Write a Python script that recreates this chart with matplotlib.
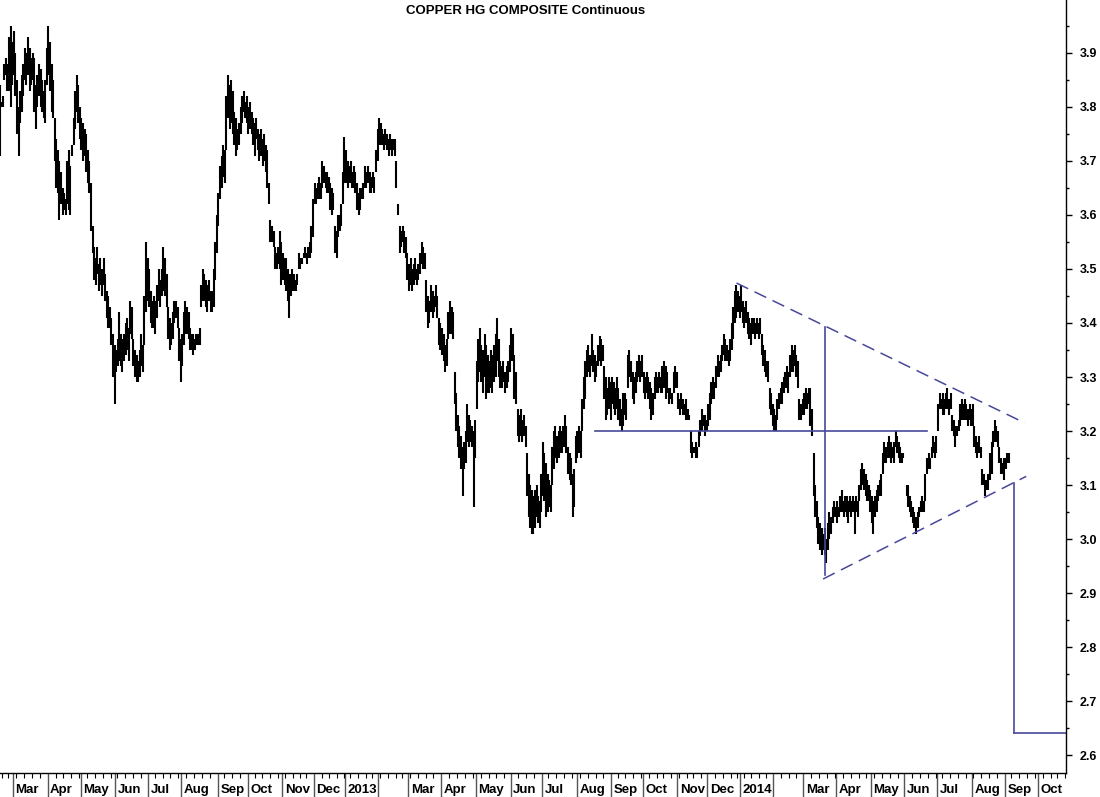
import matplotlib
matplotlib.use("Agg")
import matplotlib.pyplot as plt
import numpy as np
import pandas as pd
from matplotlib.ticker import FixedLocator, FormatStrFormatter
from pandas.tseries.holiday import USFederalHolidayCalendar
from pandas.tseries.offsets import CustomBusinessDay

plt.rcParams["font.family"] = ["Liberation Sans", "DejaVu Sans"]

TITLE = "COPPER HG COMPOSITE Continuous"
START = "2012-02-16"
AXIS_END = "2014-11-14"

# daily high / low, $/lb, one value per trading day from START
high_2012 = [
    3.84, 3.81, 3.82, 3.88, 3.89, 3.88, 3.93, 3.95, 3.92, 3.94,
    3.90, 3.85, 3.80, 3.83, 3.86, 3.88, 3.91, 3.90, 3.93, 3.91,
    3.89, 3.90, 3.89, 3.84, 3.86, 3.88, 3.87, 3.85, 3.83, 3.85,
    3.91, 3.95, 3.92, 3.88, 3.85, 3.78, 3.74, 3.72, 3.70, 3.68,
    3.65, 3.64, 3.63, 3.70, 3.72, 3.69, 3.73, 3.78, 3.83, 3.86,
    3.84, 3.80, 3.78, 3.77, 3.76, 3.75, 3.72, 3.70, 3.66,
    3.58, 3.54, 3.52, 3.54, 3.51, 3.52, 3.50, 3.52, 3.49, 3.46,
    3.45, 3.43, 3.41, 3.38, 3.36, 3.35, 3.37, 3.42, 3.38, 3.37,
    3.38, 3.40, 3.41, 3.39, 3.44, 3.43, 3.37, 3.35, 3.34, 3.33,
    3.35, 3.38, 3.36, 3.45, 3.55, 3.52, 3.50, 3.46, 3.44, 3.45,
    3.44, 3.47, 3.50, 3.48, 3.50, 3.54, 3.52, 3.49, 3.43, 3.41,
    3.40, 3.42, 3.44, 3.44, 3.43, 3.39, 3.37, 3.38, 3.42, 3.44,
    3.43, 3.42, 3.39, 3.38, 3.38, 3.37, 3.38, 3.38, 3.39, 3.47,
    3.50, 3.49, 3.48, 3.47, 3.48, 3.46, 3.46, 3.50, 3.55,
    3.60, 3.64, 3.69, 3.71, 3.73, 3.72, 3.82, 3.86, 3.84, 3.85,
    3.83, 3.79, 3.78, 3.76, 3.77, 3.80, 3.82, 3.83, 3.81, 3.82,
    3.80, 3.81, 3.79, 3.78, 3.77, 3.78, 3.76, 3.75, 3.76, 3.74,
    3.75, 3.73, 3.72, 3.66, 3.59, 3.58, 3.57, 3.54, 3.53, 3.54,
    3.57, 3.55, 3.53, 3.52, 3.52, 3.50, 3.49, 3.49, 3.50, 3.49,
    3.48, 3.49, 3.53, 3.52, 3.52, 3.53, 3.54, 3.53, 3.54, 3.55,
    3.58, 3.63, 3.66, 3.65, 3.66, 3.67, 3.66, 3.70, 3.69, 3.68,
    3.68, 3.67, 3.66, 3.65, 3.64, 3.58, 3.57, 3.60, 3.60,
    3.62, 3.68, 3.745,
]
low_2012 = [
    3.71, 3.80, 3.80, 3.85, 3.86, 3.83, 3.83, 3.80, 3.84, 3.86,
    3.82, 3.75, 3.71, 3.77, 3.79, 3.82, 3.85, 3.84, 3.86, 3.83,
    3.84, 3.85, 3.79, 3.76, 3.80, 3.82, 3.80, 3.79, 3.78, 3.77,
    3.84, 3.86, 3.83, 3.79, 3.78, 3.70, 3.65, 3.64, 3.59, 3.62,
    3.60, 3.61, 3.60, 3.62, 3.61, 3.60, 3.71, 3.73, 3.76, 3.79,
    3.77, 3.74, 3.72, 3.70, 3.71, 3.68, 3.66, 3.64, 3.57,
    3.53, 3.48, 3.47, 3.49, 3.46, 3.47, 3.45, 3.47, 3.44, 3.41,
    3.39, 3.39, 3.36, 3.30, 3.25, 3.31, 3.32, 3.33, 3.32, 3.31,
    3.33, 3.34, 3.35, 3.33, 3.38, 3.37, 3.32, 3.30, 3.29, 3.29,
    3.30, 3.32, 3.31, 3.36, 3.42, 3.44, 3.43, 3.40, 3.39, 3.39,
    3.38, 3.41, 3.44, 3.43, 3.45, 3.46, 3.45, 3.43, 3.37, 3.35,
    3.36, 3.37, 3.40, 3.41, 3.39, 3.33, 3.29, 3.32, 3.36, 3.38,
    3.38, 3.37, 3.35, 3.35, 3.34, 3.35, 3.36, 3.36, 3.36, 3.43,
    3.44, 3.44, 3.43, 3.42, 3.44, 3.42, 3.42, 3.43, 3.48,
    3.53, 3.58, 3.63, 3.65, 3.67, 3.66, 3.72, 3.78, 3.76, 3.77,
    3.75, 3.73, 3.71, 3.72, 3.73, 3.75, 3.77, 3.79, 3.78, 3.77,
    3.75, 3.76, 3.75, 3.73, 3.71, 3.74, 3.72, 3.70, 3.71, 3.69,
    3.70, 3.68, 3.65, 3.62, 3.55, 3.55, 3.54, 3.50, 3.50, 3.51,
    3.50, 3.47, 3.48, 3.47, 3.46, 3.44, 3.41, 3.45, 3.46, 3.46,
    3.46, 3.47, 3.50, 3.50, 3.51, 3.52, 3.52, 3.51, 3.52, 3.52,
    3.53, 3.56, 3.62, 3.62, 3.63, 3.63, 3.63, 3.65, 3.66, 3.65,
    3.64, 3.64, 3.61, 3.60, 3.61, 3.53, 3.52, 3.56, 3.57,
    3.58, 3.62, 3.66,
]
high_2013 = [
    3.72, 3.70, 3.69, 3.70, 3.68, 3.69, 3.68,
    3.66, 3.64, 3.65, 3.65, 3.66, 3.69, 3.68, 3.69, 3.68, 3.67,
    3.68, 3.67, 3.72, 3.76, 3.78, 3.77, 3.76, 3.75, 3.76, 3.75,
    3.74, 3.75, 3.74, 3.74, 3.74, 3.70, 3.62, 3.58, 3.57, 3.58,
    3.57, 3.56, 3.53, 3.51, 3.52, 3.50, 3.51, 3.52, 3.50, 3.51,
    3.53, 3.55, 3.54, 3.53, 3.48, 3.45, 3.44, 3.47, 3.46, 3.45,
    3.47, 3.45, 3.41, 3.40, 3.39, 3.38, 3.36, 3.37, 3.42, 3.44,
    3.43, 3.42, 3.31, 3.27, 3.23, 3.21, 3.19, 3.17, 3.18,
    3.20, 3.25, 3.23, 3.22, 3.21, 3.20, 3.22, 3.33, 3.37, 3.39,
    3.36, 3.35, 3.38, 3.36, 3.34, 3.33, 3.35, 3.34, 3.36, 3.38,
    3.41, 3.37, 3.33, 3.32, 3.33, 3.31, 3.32, 3.33, 3.36, 3.39,
    3.38, 3.34, 3.31, 3.24, 3.23, 3.24, 3.22, 3.23, 3.21, 3.16,
    3.12, 3.10, 3.09, 3.08, 3.09, 3.10, 3.08, 3.07, 3.12, 3.18,
    3.16, 3.14, 3.12, 3.11, 3.10, 3.17, 3.20, 3.21, 3.19, 3.20,
    3.21, 3.20, 3.21, 3.23, 3.21, 3.17, 3.16, 3.15, 3.12, 3.13,
    3.19, 3.20, 3.21, 3.20, 3.26, 3.30, 3.33, 3.35, 3.36,
    3.34, 3.38, 3.35, 3.34, 3.33, 3.36, 3.375, 3.37, 3.36, 3.32,
    3.30, 3.28, 3.30, 3.29, 3.30, 3.29, 3.28, 3.30, 3.28, 3.26,
    3.24, 3.27, 3.27, 3.26, 3.34, 3.35, 3.33, 3.31, 3.30, 3.31,
    3.33, 3.34, 3.33, 3.34, 3.31, 3.30, 3.31, 3.30, 3.29, 3.28,
    3.27, 3.30, 3.31, 3.30, 3.31, 3.30, 3.32, 3.33, 3.32, 3.31,
    3.28, 3.28, 3.27, 3.31, 3.32, 3.31, 3.27, 3.26, 3.27, 3.26,
    3.25, 3.26, 3.24, 3.23, 3.20, 3.18, 3.17, 3.18, 3.17, 3.20,
    3.22, 3.24, 3.23, 3.23, 3.22, 3.25, 3.27, 3.29, 3.30,
    3.29, 3.32, 3.34, 3.33, 3.34, 3.36, 3.38, 3.37, 3.36, 3.35,
    3.37, 3.40, 3.43, 3.46, 3.47, 3.46, 3.45,
]
low_2013 = [
    3.66, 3.65, 3.66, 3.66, 3.65, 3.65, 3.64,
    3.61, 3.60, 3.61, 3.63, 3.63, 3.65, 3.65, 3.66, 3.64, 3.64,
    3.65, 3.64, 3.68, 3.70, 3.73, 3.73, 3.73, 3.72, 3.73, 3.72,
    3.71, 3.72, 3.71, 3.72, 3.71, 3.65, 3.60, 3.53, 3.54, 3.55,
    3.53, 3.52, 3.48, 3.46, 3.47, 3.46, 3.47, 3.48, 3.47, 3.48,
    3.49, 3.51, 3.50, 3.50, 3.42, 3.39, 3.40, 3.42, 3.41, 3.42,
    3.43, 3.41, 3.36, 3.35, 3.34, 3.33, 3.31, 3.32, 3.37, 3.38,
    3.38, 3.37, 3.25, 3.20, 3.17, 3.15, 3.13, 3.08, 3.13,
    3.14, 3.18, 3.17, 3.18, 3.17, 3.06, 3.15, 3.24, 3.29, 3.31,
    3.29, 3.27, 3.30, 3.26, 3.27, 3.27, 3.28, 3.27, 3.29, 3.30,
    3.33, 3.30, 3.28, 3.28, 3.29, 3.27, 3.28, 3.29, 3.31, 3.33,
    3.33, 3.26, 3.25, 3.19, 3.18, 3.19, 3.18, 3.19, 3.17, 3.08,
    3.04, 3.02, 3.01, 3.01, 3.02, 3.04, 3.03, 3.02, 3.05, 3.08,
    3.07, 3.04, 3.05, 3.06, 3.05, 3.10, 3.13, 3.15, 3.14, 3.15,
    3.16, 3.16, 3.17, 3.17, 3.16, 3.12, 3.11, 3.10, 3.04, 3.06,
    3.14, 3.15, 3.16, 3.15, 3.20, 3.24, 3.26, 3.30, 3.31,
    3.30, 3.32, 3.31, 3.29, 3.30, 3.32, 3.33, 3.32, 3.33, 3.26,
    3.22, 3.23, 3.24, 3.22, 3.25, 3.24, 3.23, 3.24, 3.22, 3.21,
    3.20, 3.21, 3.23, 3.22, 3.28, 3.30, 3.29, 3.26, 3.25, 3.27,
    3.29, 3.30, 3.29, 3.30, 3.27, 3.26, 3.27, 3.26, 3.24, 3.22,
    3.23, 3.26, 3.27, 3.27, 3.28, 3.27, 3.27, 3.28, 3.26, 3.27,
    3.25, 3.26, 3.25, 3.27, 3.28, 3.28, 3.24, 3.23, 3.24, 3.23,
    3.23, 3.22, 3.22, 3.22, 3.16, 3.15, 3.16, 3.15, 3.15, 3.17,
    3.19, 3.20, 3.21, 3.19, 3.20, 3.21, 3.22, 3.25, 3.26,
    3.26, 3.28, 3.30, 3.30, 3.31, 3.33, 3.34, 3.33, 3.33, 3.32,
    3.33, 3.35, 3.37, 3.40, 3.41, 3.42, 3.41,
]
high_2014 = [
    3.47, 3.44, 3.43,
    3.44, 3.42, 3.41, 3.40, 3.41, 3.41, 3.40, 3.41, 3.40, 3.41,
    3.38, 3.36, 3.35, 3.33, 3.33, 3.28, 3.27, 3.25, 3.24, 3.23,
    3.26, 3.27, 3.28, 3.29, 3.30, 3.31, 3.32, 3.31, 3.34, 3.36,
    3.35, 3.36, 3.34, 3.33, 3.26, 3.25, 3.26, 3.27, 3.28, 3.27,
    3.28, 3.28, 3.24, 3.16, 3.10, 3.07, 3.04, 3.03, 3.02, 3.01,
    3.02, 3.00, 3.03, 3.05, 3.04, 3.06, 3.07, 3.06, 3.07,
    3.06, 3.08, 3.09, 3.07, 3.08, 3.08, 3.07, 3.08, 3.07, 3.08,
    3.07, 3.08, 3.07, 3.10, 3.13, 3.14, 3.13, 3.12, 3.11, 3.10,
    3.09, 3.08, 3.07, 3.08, 3.09, 3.10, 3.11, 3.12, 3.16, 3.18,
    3.17, 3.18, 3.19, 3.18, 3.17, 3.18, 3.20, 3.19, 3.18, 3.17,
    3.16, 3.16, np.nan, 3.10, 3.10, 3.08, 3.07, 3.06, 3.05, 3.04,
    3.05, 3.06, 3.07, 3.08, 3.07, 3.12, 3.15, 3.16, 3.15, 3.17,
    3.19, 3.18, 3.19, 3.25, 3.27, 3.26, 3.27, 3.26, 3.27, 3.28,
    3.26, 3.27, 3.23, 3.22, 3.21, 3.21, 3.22, 3.25, 3.26,
    3.25, 3.26, 3.25, 3.24, 3.25, 3.24, 3.25, 3.21, 3.19, 3.18,
    3.19, 3.17, 3.13, 3.12, 3.11, 3.11, 3.12, 3.16, 3.18, 3.20,
    3.22, 3.21, 3.20, 3.17, 3.15, 3.14, 3.15, 3.15, 3.16, 3.16,
]
low_2014 = [
    3.42, 3.40, 3.39,
    3.40, 3.38, 3.37, 3.36, 3.38, 3.38, 3.37, 3.38, 3.37, 3.38,
    3.34, 3.32, 3.31, 3.30, 3.29, 3.24, 3.23, 3.21, 3.20, 3.20,
    3.22, 3.24, 3.25, 3.25, 3.27, 3.28, 3.28, 3.27, 3.30, 3.31,
    3.31, 3.32, 3.30, 3.28, 3.22, 3.22, 3.23, 3.23, 3.24, 3.24,
    3.25, 3.21, 3.19, 3.08, 3.04, 3.02, 2.99, 2.98, 2.97, 2.98,
    2.97, 2.955, 2.98, 3.00, 3.01, 3.03, 3.04, 3.04, 3.03,
    3.04, 3.05, 3.05, 3.04, 3.05, 3.04, 3.03, 3.05, 3.04, 3.05,
    3.01, 3.05, 3.04, 3.07, 3.09, 3.10, 3.09, 3.08, 3.07, 3.07,
    3.05, 3.03, 3.01, 3.04, 3.05, 3.07, 3.08, 3.08, 3.12, 3.14,
    3.14, 3.15, 3.15, 3.14, 3.15, 3.14, 3.17, 3.16, 3.15, 3.14,
    3.14, 3.15, np.nan, 3.08, 3.06, 3.05, 3.04, 3.03, 3.02, 3.01,
    3.02, 3.04, 3.05, 3.05, 3.05, 3.07, 3.12, 3.13, 3.13, 3.15,
    3.16, 3.15, 3.16, 3.20, 3.24, 3.24, 3.23, 3.23, 3.24, 3.24,
    3.23, 3.24, 3.20, 3.19, 3.17, 3.19, 3.20, 3.21, 3.22,
    3.22, 3.22, 3.22, 3.21, 3.22, 3.21, 3.21, 3.17, 3.16, 3.15,
    3.16, 3.15, 3.10, 3.10, 3.08, 3.09, 3.09, 3.11, 3.12, 3.17,
    3.18, 3.18, 3.17, 3.14, 3.12, 3.12, 3.11, 3.13, 3.14, 3.14,
]

# analyst markup: (date, price) end points
support_line = [("2013-08-16", 3.20), ("2014-06-20", 3.20)]
upper_trend = [("2013-12-27", 3.474), ("2014-09-18", 3.215)]
lower_trend = [("2014-03-19", 2.926), ("2014-09-19", 3.116)]
pattern_height = [("2014-03-20", 3.393), ("2014-03-20", 2.933)]
target_drop = [("2014-09-09", 3.104), ("2014-09-09", 2.641)]

price_ticks = [2.6, 2.7, 2.8, 2.9, 3.0, 3.1, 3.2, 3.3, 3.4, 3.5, 3.6, 3.7, 3.8, 3.9]

MARKUP = "#48489a"

high = np.array(high_2012 + high_2013 + high_2014, dtype=float)
low = np.array(low_2012 + low_2013 + low_2014, dtype=float)

days = pd.date_range(START, AXIS_END, freq=CustomBusinessDay(calendar=USFederalHolidayCalendar()))
idx = np.arange(len(high))


def ix(d):
    return days.get_loc(pd.Timestamp(d))


fig = plt.figure(figsize=(11, 7.97), dpi=100)
ax = fig.add_axes([0, 0.0301, 0.9691, 0.9699])

x_left, x_right = 0.24, 677.28
ax.set_xlim(x_left, x_right)
ax.set_ylim(2.5667, 3.9981)

ax.vlines(idx, low, high, color="black", linewidth=1.5)

# markup lines
for seg in (support_line, pattern_height, target_drop):
    ax.plot([ix(d) for d, _ in seg], [p for _, p in seg], color=MARKUP, lw=1.2)
for seg in (upper_trend, lower_trend):
    ax.plot([ix(d) for d, _ in seg], [p for _, p in seg], color=MARKUP, lw=1.1,
            linestyle=(0, (8.5, 4.6)))
ax.plot([ix(target_drop[1][0]), x_right], [target_drop[1][1]] * 2, color=MARKUP, lw=1.2,
        clip_on=False)

# spines
for side in ("top", "left"):
    ax.spines[side].set_visible(False)
ax.spines["right"].set_linewidth(1.0)
ax.spines["bottom"].set_linewidth(1.0)

# price axis on the right
ax.yaxis.tick_right()
ax.yaxis.set_major_locator(FixedLocator(price_ticks))
ax.yaxis.set_minor_locator(FixedLocator([p + 0.05 for p in price_ticks]))
ax.yaxis.set_major_formatter(FormatStrFormatter("%.1f"))
ax.tick_params(axis="y", which="major", direction="out", length=4, width=1, pad=6,
               labelsize=9)
ax.tick_params(axis="y", which="minor", direction="out", length=2.5, width=1)
for lbl in ax.get_yticklabels():
    lbl.set_fontweight("bold")

# time axis: month separators, weekly ticks, month names
pos = np.arange(len(days))
month_start = pos[1:][days.month[1:] != days.month[:-1]]
week_start = pos[1:][days.weekday[1:] < days.weekday[:-1]]
week_start = [w for w in week_start if w not in set(month_start)]
ax.set_xticks([m - 0.5 for m in month_start if x_left < m - 0.5 < x_right])
ax.set_xticks([w - 0.5 for w in week_start if x_left < w - 0.5 < x_right], minor=True)
ax.set_xticklabels([])
ax.tick_params(axis="x", which="major", direction="out", length=18, width=1, color="#555555")
ax.tick_params(axis="x", which="minor", direction="out", length=3.5, width=0.8)

for m in month_start:
    d = days[m]
    if d.month == 2 or m - 0.5 > x_right - 12:
        continue
    name = str(d.year) if d.month == 1 else d.strftime("%b")
    ax.annotate(name, xy=(m - 0.5, 0), xycoords=("data", "axes fraction"),
                xytext=(1.8, -14.4), textcoords="offset points",
                ha="left", va="baseline", fontsize=9.5, fontweight="bold",
                annotation_clip=False)

fig.text(526 / 1100, 1 - 11 / 797, TITLE, ha="center", va="center",
         fontsize=9.5, fontweight="bold")

fig.savefig("out.png", dpi=100)
